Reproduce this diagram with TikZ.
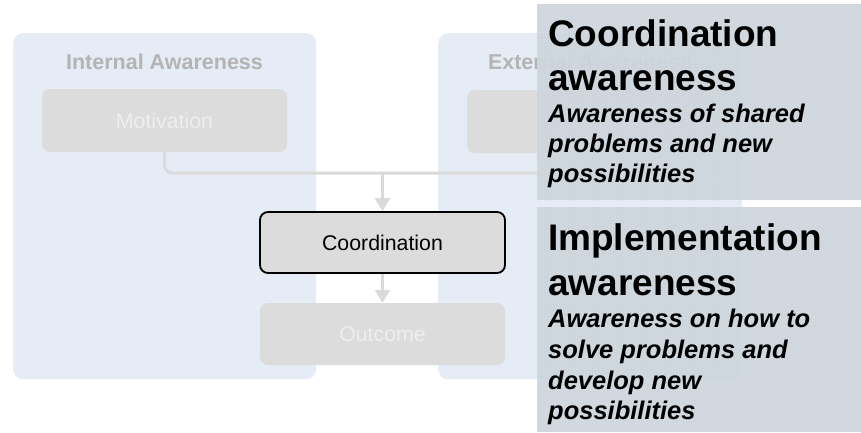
\documentclass[tikz,border=0pt]{standalone}
\usepackage{fontspec}
\setmainfont{Liberation Sans}
\usetikzlibrary{arrows.meta,patterns}
\definecolor{panelbg}{HTML}{E6ECF5}
\definecolor{boxbg}{HTML}{DCDCDC}
\definecolor{boxtxt}{HTML}{EEEEEE}
\definecolor{lbltxt}{HTML}{B4B4B4}
\definecolor{conn}{HTML}{DADADA}
\definecolor{ovl}{HTML}{CDD5DC}
\begin{document}
\begin{tikzpicture}[x=1pt,y=-1pt,
  panel/.style={fill=panelbg, rounded corners=10pt, minimum width=304pt, minimum height=346pt, anchor=north west, inner sep=0pt},
  lbl/.style={text=lbltxt, font=\fontsize{21.5}{26}\selectfont\bfseries, anchor=base, inner sep=0pt},
  gbox/.style={fill=boxbg, rounded corners=8pt, minimum width=245pt, minimum height=62pt, inner sep=0pt, text=boxtxt, font=\fontsize{21.3}{26}\selectfont},
  cbox/.style={gbox, draw=black, line width=1.8pt, text=black},
  conline/.style={draw=conn, line width=3pt},
  conarrow/.style={conline, -{Triangle[width=15pt,length=13pt]}},
  overlay/.style={fill=ovl, fill opacity=0.93, minimum width=324pt, anchor=north west, inner sep=0pt},
  ttl/.style={anchor=base west, inner sep=0pt, font=\fontsize{37}{44}\selectfont\bfseries},
  sub/.style={anchor=base west, inner sep=0pt, font=\fontsize{25.5}{30}\selectfont\bfseries\itshape}
]
\useasboundingbox[fill=white] (0,0) rectangle (861,432);

% panels
\node[panel, minimum width=303pt] (ip) at (13,33) {};
\node[panel] (ep) at (438,33) {};
\node[lbl] (ipl) at (164.5,69) {Internal Awareness};
\node[lbl] (epl) at (590,69) {External Awareness};

% boxes
\node[gbox, minimum height=63pt] (mot) at (164.5,120.5) {Motivation};
\node[gbox, minimum width=246pt, minimum height=63pt] (ext) at (590,121.5) {};
\node[cbox, minimum height=61pt] (coord) at (382.5,242.5) {Coordination};
\node[gbox] (out) at (382.5,334) {Outcome};

% connectors
\coordinate (j) at (382.5,173);
\draw[conline, rounded corners=8pt] (mot.south) |- (j) -| (ext.south);
\draw[conarrow] (j) -- (coord.north);
\draw[conarrow] (coord.south) -- (out.north);

% overlays
\node[overlay, minimum height=196pt] (o1) at (537,4) {};
\node[overlay, minimum height=225pt] (o2) at (537,207) {};
\fill[pattern=dots, pattern color=white, opacity=0.35] (o1.north west) rectangle (o1.south east);
\fill[pattern=dots, pattern color=white, opacity=0.35] (o2.north west) rectangle (o2.south east);

\node[ttl] (a1) at (548,46) {Coordination};
\node[ttl] (a2) at (548,90) {awareness};
\node[sub] (a3) at (548,122) {Awareness of shared};
\node[sub] (a4) at (548,152) {problems and new};
\node[sub] (a5) at (548,182) {possibilities};

\node[ttl] (b1) at (548,250) {Implementation};
\node[ttl] (b2) at (548,295) {awareness};
\node[sub] (b3) at (548,327) {Awareness on how to};
\node[sub] (b4) at (548,358) {solve problems and};
\node[sub] (b5) at (548,389) {develop new};
\node[sub] (b6) at (548,419) {possibilities};
\end{tikzpicture}
\end{document}
